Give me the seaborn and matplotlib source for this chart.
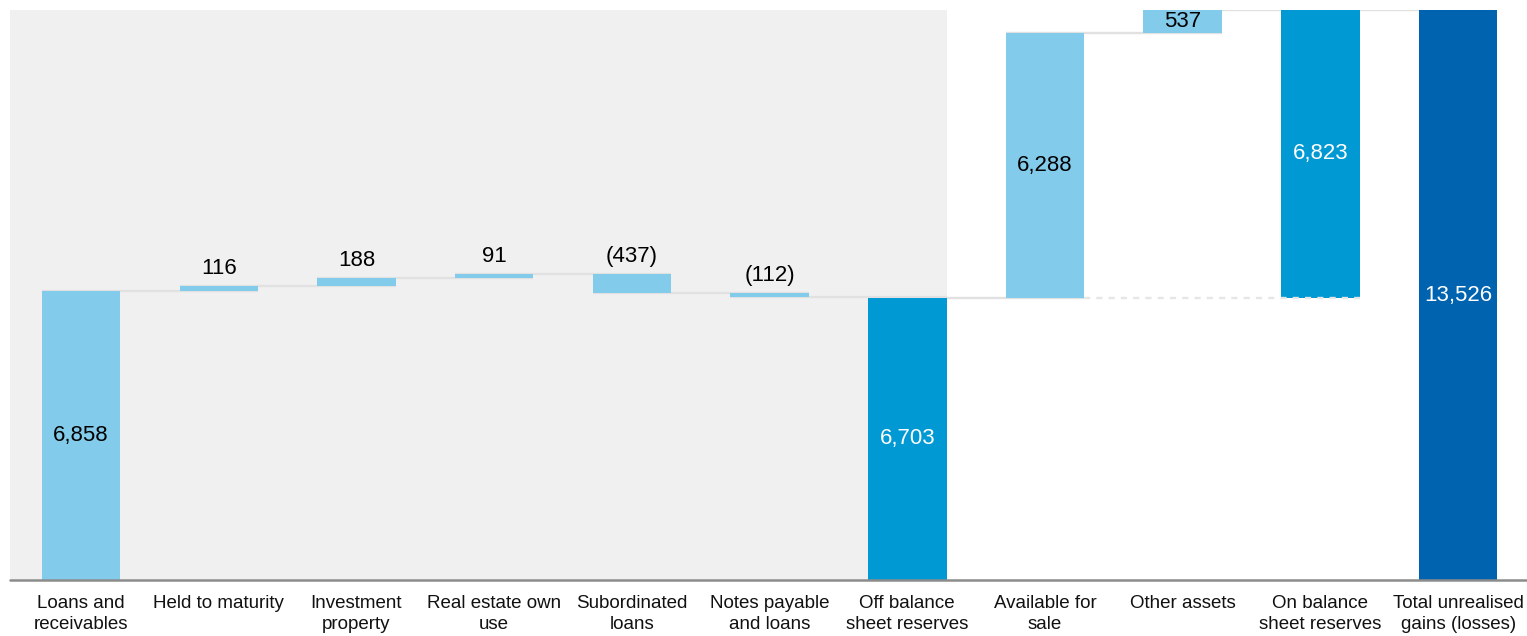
import numpy as np
import matplotlib
matplotlib.use("Agg")
import matplotlib.pyplot as plt
import seaborn as sns

# ---- data ----
categories = ["Loans and receivables", "Held to maturity", "Investment property",
              "Real estate own use", "Subordinated loans", "Notes payable and loans",
              "Off balance sheet reserves", "Available for sale", "Other assets",
              "On balance sheet reserves", "Total unrealised gains (losses)"]
tick_labels = ["Loans and\nreceivables", "Held to maturity", "Investment\nproperty",
               "Real estate own\nuse", "Subordinated\nloans", "Notes payable\nand loans",
               "Off balance\nsheet reserves", "Available for\nsale", "Other assets",
               "On balance\nsheet reserves", "Total unrealised\ngains (losses)"]
values = [6858, 116, 188, 91, -437, -112, 6703, 6288, 537, 6823, 13526]
kinds = ["total", "delta", "delta", "delta", "delta", "delta",
         "total", "delta", "delta", "sub", "total"]

# ---- style ----
light = "#82CBEA"
mid = "#0099D4"
dark = "#0063AF"
bar_colors = [light, light, light, light, light, light, mid, light, light, mid, dark]
label_colors = ["black", "black", "black", "black", "black", "black",
                "white", "black", "black", "white", "white"]
label_pos = ["in", "above", "above", "above", "above", "above",
             "in", "in", "in", "in", "in"]

sns.set_theme(style="white")
plt.rcParams["font.family"] = ["Liberation Sans", "DejaVu Sans"]

# waterfall geometry from values
bottoms, heights, levels = [], [], []
running = 0
last_total = 0
for v, k in zip(values, kinds):
    if k == "total":
        b, h = 0, v
        running = v
        last_total = v
    elif k == "sub":
        b, h = last_total, v
        running = last_total + v
    else:
        if v >= 0:
            b, h = running, v
        else:
            b, h = running + v, -v
        running = running + v
    bottoms.append(b)
    heights.append(h)
    levels.append(running)

fig = plt.figure(figsize=(15.27, 6.36), dpi=100)
ax = fig.add_axes([10 / 1527, 56 / 636, 1517 / 1527, 570 / 636])

W = 0.57
sns.barplot(x=categories, y=heights, bottom=bottoms, color=light, width=W,
            errorbar=None, ax=ax, linewidth=0, zorder=3)
for p, c in zip(ax.patches, bar_colors):
    p.set_facecolor(c)
    p.set_edgecolor("none")

n = len(categories)
ax.set_xlim(-0.516, n - 0.5)
ax.set_ylim(0, 13526)

# gray background for the off-balance section
ax.axvspan(-0.516, 6 + W / 2, color="#F0F0F0", zorder=0, lw=0)

# connectors
conn = "#E1E1E1"
for i in range(n - 1):
    ax.plot([i - W / 2, i + 1 + W / 2], [levels[i], levels[i]], color=conn,
            lw=1.7, zorder=1.5, solid_capstyle="butt")
# dashed line under the on-balance bar
ax.plot([7 + W / 2, 9 + W / 2], [values[6], values[6]], color="#E6E6E6", lw=1.7,
        dashes=(2.6, 2.6), zorder=4)

# baseline
ax.axhline(0, color="#8C8C8C", lw=1.8, zorder=5, clip_on=False)

def fmt(v):
    return f"({abs(v):,})" if v < 0 else f"{v:,}"

for i in range(n):
    top = bottoms[i] + heights[i]
    if label_pos[i] == "in":
        ax.text(i, bottoms[i] + heights[i] / 2, fmt(values[i]), ha="center", va="center",
                fontsize=16, color=label_colors[i], zorder=6)
    else:
        ax.annotate(fmt(values[i]), (i, top), xytext=(0, 5), textcoords="offset points",
                    ha="center", va="bottom", fontsize=16, color=label_colors[i], zorder=6)

for s in ax.spines.values():
    s.set_visible(False)
ax.set_yticks([])
ax.set_xticks(range(n))
ax.set_xticklabels(tick_labels, fontsize=13.5, linespacing=1.3, color="#111111")
ax.tick_params(axis="x", length=0, pad=11)
ax.set_xlabel("")
ax.set_ylabel("")
ax.set_facecolor("white")

fig.savefig("out.png", dpi=100)
